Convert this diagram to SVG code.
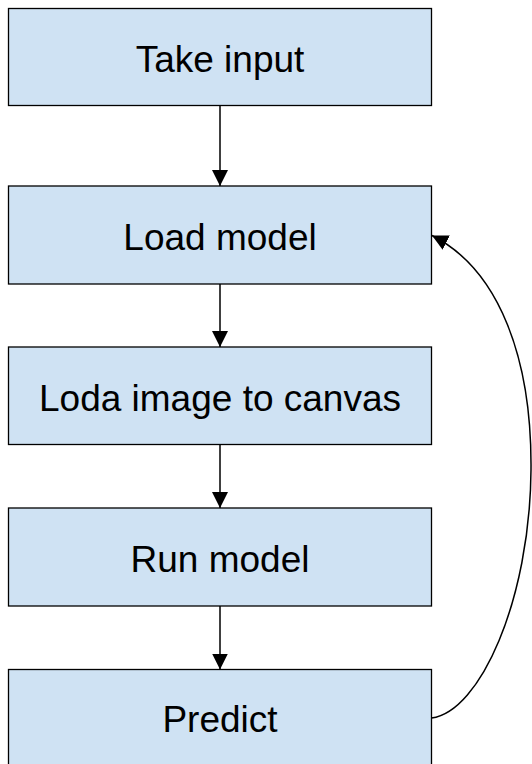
<svg xmlns="http://www.w3.org/2000/svg" width="532" height="764" viewBox="0 0 532 764">
  <style>
    .box { fill: #cfe2f3; stroke: #000; stroke-width: 1.3; }
    .label { font-family: "Liberation Sans", Arial, sans-serif; font-size: 37px; fill: #000; text-anchor: middle; }
    .edge { fill: none; stroke: #000; stroke-width: 1.5; }
  </style>
  <defs>
    <!-- filled triangular arrowhead shared by every connector -->
    <marker id="arrowBig" viewBox="0 0 10 10" refX="10" refY="5" markerWidth="16" markerHeight="16" markerUnits="userSpaceOnUse" orient="auto">
      <path d="M0,0 L10,5 L0,10 Z" fill="#000"/>
    </marker>
  </defs>
  <rect width="532" height="764" fill="#fff"/>

  <g id="take-input">
    <rect class="box" x="8.5" y="8.5" width="423" height="97"/>
    <text class="label" x="220" y="71.5">Take input</text>
  </g>
  <g id="load-model">
    <rect class="box" x="8.5" y="186" width="423" height="98"/>
    <text class="label" x="220" y="249.5">Load model</text>
  </g>
  <g id="load-image">
    <rect class="box" x="8.5" y="347" width="423" height="97.5"/>
    <text class="label" x="220" y="410.5">Loda image to canvas</text>
  </g>
  <g id="run-model">
    <rect class="box" x="8.5" y="508" width="423" height="98"/>
    <text class="label" x="220" y="571.5">Run model</text>
  </g>
  <g id="predict">
    <rect class="box" x="8.5" y="669.5" width="423" height="100"/>
    <text class="label" x="220" y="732">Predict</text>
  </g>

  <g id="connectors">
    <line class="edge" x1="220" y1="105.5" x2="220" y2="186" marker-end="url(#arrowBig)"/>
    <line class="edge" x1="220" y1="284" x2="220" y2="347" marker-end="url(#arrowBig)"/>
    <line class="edge" x1="220" y1="444.5" x2="220" y2="508" marker-end="url(#arrowBig)"/>
    <line class="edge" x1="220" y1="606" x2="220" y2="669.5" marker-end="url(#arrowBig)"/>
    <!-- loop back from Predict to Load model -->
    <path class="edge" d="M431.5,718 C480,712 530,600 531,470 C532,360 500,270 432,235.5" marker-end="url(#arrowBig)"/>
  </g>
</svg>
